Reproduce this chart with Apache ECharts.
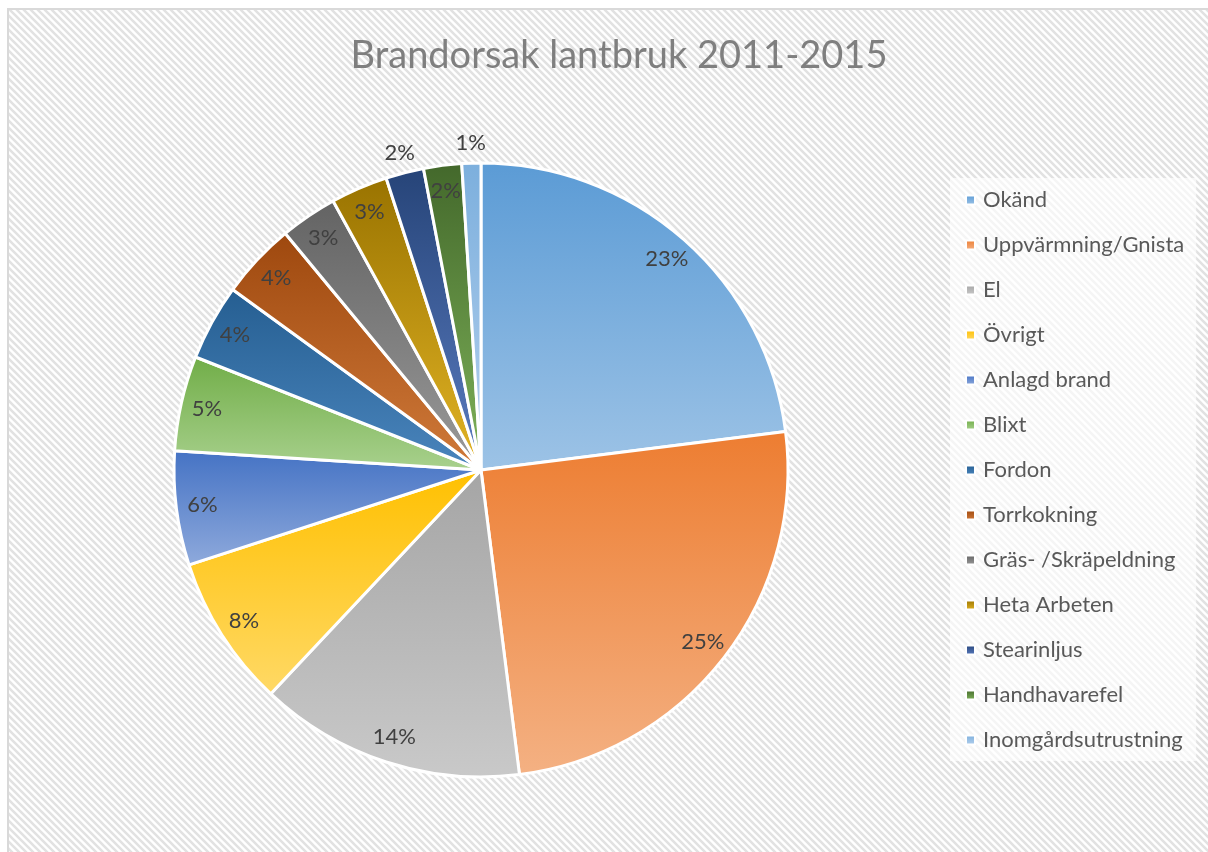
<!DOCTYPE html>
<html>
<head>
<meta charset="utf-8">
<script src="https://cdn.jsdelivr.net/npm/echarts@6/dist/echarts.min.js"></script>
<style>
  html, body { margin: 0; padding: 0; background: #fff; }
  #chart { width: 1208px; height: 852px; }
</style>
</head>
<body>
<div id="chart"></div>
<script>
// ---- data ----
const titleText = 'Brandorsak lantbruk 2011-2015';
const categories = ['Okänd', 'Uppvärmning/Gnista', 'El', 'Övrigt', 'Anlagd brand', 'Blixt', 'Fordon',
  'Torrkokning', 'Gräs- /Skräpeldning', 'Heta Arbeten', 'Stearinljus', 'Handhavarefel', 'Inomgårdsutrustning'];
const values = [23, 25, 14, 8, 6, 5, 4, 4, 3, 3, 2, 2, 1];
// labels drawn outside the pie in the reference
const outsideLabel = [false, false, false, false, false, false, false, false, false, false, true, false, true];

// ---- styles ----
const topColors = ['#5B9BD5', '#ED7D31', '#A5A5A5', '#FFC000', '#4472C4', '#70AD47', '#255E91',
  '#9E480E', '#636363', '#997300', '#264478', '#43682B', '#7CAFDD'];
const bottomColors = ['#9DC3E6', '#F4B183', '#C9C9C9', '#FFD966', '#8FAADC', '#A9D18E', '#4A85BD',
  '#D07A3A', '#9A9A9A', '#E2B425', '#5A7CC0', '#7FB35A', '#B4D0ED'];

const CX = 481, CY = 470, R = 307;

function grad(i) {
  return new echarts.graphic.LinearGradient(0, 0, 0, 1, [
    { offset: 0, color: topColors[i] },
    { offset: 1, color: bottomColors[i] }
  ]);
}

// hatch pattern
const S = 7;
const cvs = document.createElement('canvas');
cvs.width = S; cvs.height = S;
const g = cvs.getContext('2d');
g.fillStyle = '#ffffff';
g.fillRect(0, 0, S, S);
g.strokeStyle = '#e2e2e2';
g.lineWidth = 2.6;
g.beginPath();
g.moveTo(-S, -S); g.lineTo(2 * S, 2 * S);
g.moveTo(-S, 0); g.lineTo(S, 2 * S);
g.moveTo(0, -S); g.lineTo(2 * S, S);
g.stroke();

const labelFont = { fontFamily: 'Lato', fontSize: 22, color: '#404040' };

const chart = echarts.init(document.getElementById('chart'), null, { renderer: 'canvas' });

chart.setOption({
  animation: false,
  backgroundColor: '#ffffff',
  graphic: [{
    type: 'rect',
    z: -10,
    silent: true,
    shape: { x: 8, y: 9, width: 1400, height: 1000 },
    style: { fill: { image: cvs, repeat: 'repeat' }, stroke: '#d9d9d9', lineWidth: 2 }
  }],
  title: {
    text: titleText,
    left: 614,
    textAlign: 'center',
    top: 32,
    textStyle: { fontFamily: 'Lato', fontSize: 38, fontWeight: 'normal', color: '#7f7f7f' }
  },
  legend: {
    orient: 'vertical',
    left: 950,
    top: 178,
    padding: [10, 12, 9, 15],
    backgroundColor: 'rgba(255,255,255,0.65)',
    itemWidth: 9,
    itemHeight: 9,
    itemGap: 21,
    icon: 'rect',
    selectedMode: false,
    data: categories,
    textStyle: { fontFamily: 'Lato', fontSize: 22, color: '#595959', lineHeight: 24, padding: [0, 0, 0, 3] }
  },
  series: [
    {
      type: 'pie',
      center: [CX, CY],
      radius: R,
      startAngle: 90,
      clockwise: true,
      avoidLabelOverlap: false,
      silent: true,
      itemStyle: { borderColor: '#ffffff', borderWidth: 3 },
      label: { show: false },
      labelLine: { show: false },
      emphasis: { disabled: true },
      data: categories.map((n, i) => ({ name: n, value: values[i], itemStyle: { color: grad(i) } }))
    },
    {
      type: 'pie',
      center: [CX, CY],
      radius: [R * 0.81, R],
      startAngle: 90,
      clockwise: true,
      avoidLabelOverlap: false,
      silent: true,
      legendHoverLink: false,
      itemStyle: { color: 'rgba(0,0,0,0)', borderWidth: 0 },
      labelLine: { show: false },
      emphasis: { disabled: true },
      data: categories.map((n, i) => ({
        name: n, value: values[i],
        label: Object.assign({ show: !outsideLabel[i], position: 'inside', formatter: '{c}%' }, labelFont)
      }))
    },
    {
      type: 'pie',
      center: [CX, CY],
      radius: [R, R + 34],
      startAngle: 90,
      clockwise: true,
      avoidLabelOverlap: false,
      silent: true,
      legendHoverLink: false,
      itemStyle: { color: 'rgba(0,0,0,0)', borderWidth: 0 },
      labelLine: { show: false },
      emphasis: { disabled: true },
      data: categories.map((n, i) => ({
        name: n, value: values[i],
        label: Object.assign({ show: outsideLabel[i], position: 'inside', formatter: '{c}%' }, labelFont)
      }))
    }
  ]
});
</script>
</body>
</html>
